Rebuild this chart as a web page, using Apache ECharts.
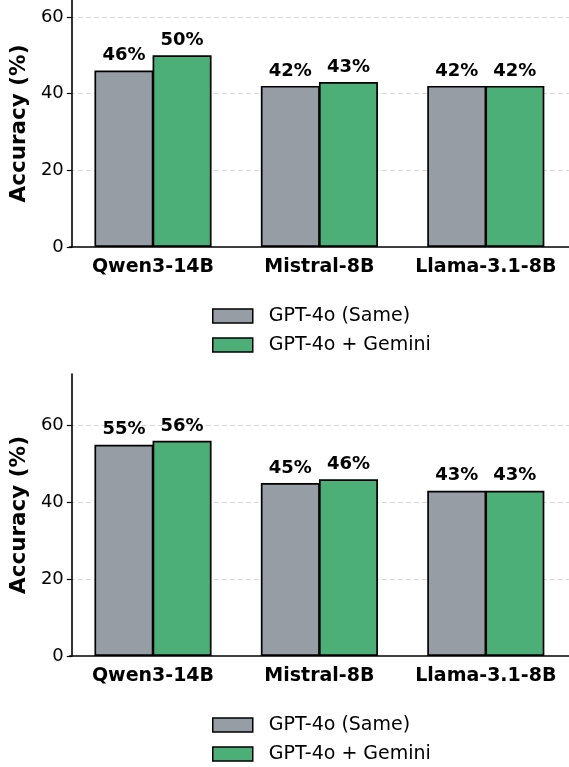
<!DOCTYPE html>
<html>
<head>
<meta charset="utf-8">
<script src="https://cdn.jsdelivr.net/npm/echarts@6/dist/echarts.min.js"></script>
<style>
  html, body { margin: 0; padding: 0; background: #fff; }
  #chart { width: 569px; height: 767px; }
</style>
</head>
<body>
<div id="chart"></div>
<script>
const models = ['Qwen3-14B', 'Mistral-8B', 'Llama-3.1-8B'];
const seriesNames = ['GPT-4o (Same)', 'GPT-4o + Gemini'];
const topSame = [46, 42, 42];
const topGemini = [50, 43, 42];
const bottomSame = [55, 45, 43];
const bottomGemini = [56, 46, 43];
const yTicks = [0, 20, 40, 60];

const GRAY = '#979da4';
const GREEN = '#4caf78';
const FONT = 'DejaVu Sans';

const chart = echarts.init(document.getElementById('chart'), null, { renderer: 'canvas' });

// x band starts a bit left of the y axis line, like the matplotlib xlim
const grids = [
  { left: 67.5, right: -6, top: 0, height: 247 },
  { left: 67.5, right: -6, top: 374, height: 282 },
];

function xAxis(i) {
  return {
    type: 'category',
    gridIndex: i,
    data: models,
    axisLine: { lineStyle: { color: '#000', width: 1.6 } },
    axisTick: { alignWithLabel: true, length: 5, lineStyle: { color: '#000', width: 1.2 } },
    axisLabel: {
      interval: 0, hideOverlap: false,
      color: '#000', fontFamily: FONT, fontWeight: 'bold', fontSize: 19, margin: 11,
    },
  };
}

function yAxis(i, max) {
  return {
    type: 'value',
    gridIndex: i,
    min: 0,
    max: max,
    interval: 20,
    offset: -2,
    name: 'Accuracy (%)',
    nameLocation: 'middle',
    nameGap: 41,
    nameTextStyle: { color: '#000', fontFamily: FONT, fontWeight: 'bold', fontSize: 21.5 },
    axisLine: { show: true, lineStyle: { color: '#000', width: 1.6 } },
    axisTick: { show: true, length: 5, customValues: yTicks, lineStyle: { color: '#000', width: 1.2 } },
    axisLabel: {
      color: '#000', fontFamily: FONT, fontSize: 18, margin: 8,
      customValues: yTicks,
      formatter: v => (yTicks.includes(v) ? String(v) : ''),
    },
    splitLine: {
      show: true, showMinLine: false,
      lineStyle: { color: '#d8d8d8', type: [5, 3], width: 1 },
    },
  };
}

function bars(name, data, color, i) {
  return {
    type: 'bar',
    name: name,
    xAxisIndex: i,
    yAxisIndex: i,
    data: data,
    barWidth: 59,
    barGap: '-1.5%',
    itemStyle: { color: color, borderColor: '#000', borderWidth: 1.7 },
    label: {
      show: true,
      position: 'top',
      distance: 6,
      formatter: p => p.value + '%',
      color: '#000',
      fontFamily: FONT,
      fontWeight: 'bold',
      fontSize: 18,
    },
  };
}

function legend(top) {
  return {
    orient: 'vertical',
    left: 212,
    top: top,
    padding: 0,
    itemWidth: 40,
    itemHeight: 14,
    itemGap: 9,
    icon: 'rect',
    selectedMode: false,
    data: seriesNames,
    itemStyle: { borderColor: '#000', borderWidth: 1.5 },
    textStyle: { color: '#000', fontFamily: FONT, fontSize: 19, lineHeight: 20, padding: [0, 0, 0, 11] },
  };
}

chart.setOption({
  animation: false,
  backgroundColor: '#fff',
  grid: grids,
  xAxis: [xAxis(0), xAxis(1)],
  yAxis: [yAxis(0, 64.4), yAxis(1, 73.4)],
  legend: [legend(306), legend(715)],
  series: [
    bars(seriesNames[0], topSame, GRAY, 0),
    bars(seriesNames[1], topGemini, GREEN, 0),
    bars(seriesNames[0], bottomSame, GRAY, 1),
    bars(seriesNames[1], bottomGemini, GREEN, 1),
  ],
});
</script>
</body>
</html>
